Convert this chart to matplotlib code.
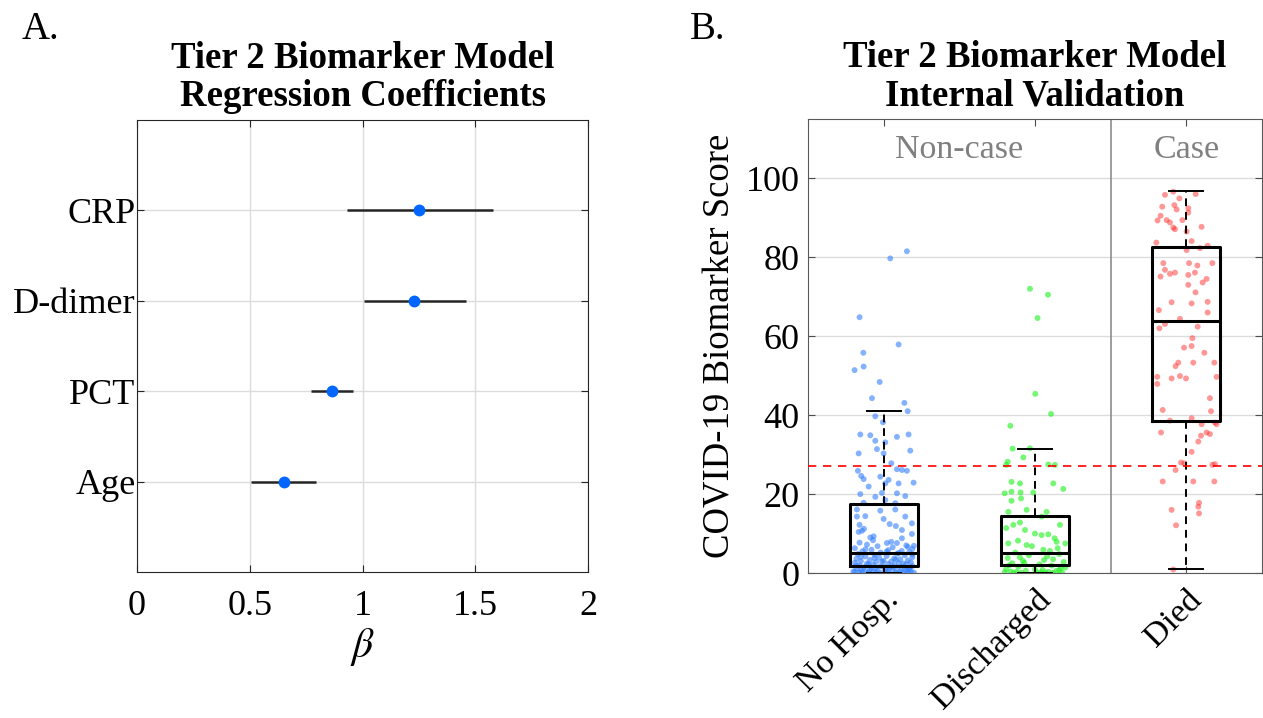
import numpy as np
import matplotlib
matplotlib.use("Agg")
import matplotlib.pyplot as plt

plt.rcParams['font.family'] = ['Liberation Serif', 'DejaVu Serif']
plt.rcParams['mathtext.fontset'] = 'stix'

# ---- panel A: regression coefficients ----
coef_names = ['Age', 'PCT', 'D-dimer', 'CRP']
coef_beta = [0.65, 0.865, 1.23, 1.25]
coef_lo = [0.507, 0.773, 1.005, 0.929]
coef_hi = [0.792, 0.958, 1.458, 1.577]

# ---- panel B: internal validation scores ----
groups = ['No Hosp.', 'Discharged', 'Died']
threshold = 27.2

# box statistics: q1, median, q3, lower whisker, upper whisker
box_q1 = [1.8, 2.0, 38.6]
box_med = [5.0, 5.0, 63.8]
box_q3 = [17.5, 14.4, 82.5]
box_lo = [0.0, 0.0, 0.9]
box_hi = [41.0, 31.4, 96.8]

nohosp_score = [81.5, 79.7, 64.8, 57.9, 55.8, 52.3, 51.4, 48.4, 44.3, 43.1, 41.0, 39.7, 38.2,
                35.1, 34.9, 33.5, 33.1, 34.5, 35.1, 30.3, 31.4, 30.3, 31.0,
                27.8, 26.3, 26.1, 25.9, 25.9, 24.6, 23.8, 24.4, 23.6, 22.7, 22.7, 22.9, 21.9,
                20.0, 20.3, 20.2, 19.5, 19.3, 18.5, 17.8, 17.7,
                16.1, 15.8, 16.1, 14.4, 14.3, 13.7, 14.3, 12.4, 11.9, 12.6, 12.2, 11.2, 10.4,
                10.7, 10.9, 9.9, 9.3, 9.0, 8.8, 7.6, 7.6, 7.7,
                7.2, 7.0, 6.8, 6.5, 6.3, 6.1, 5.9, 5.8, 5.6, 5.5, 5.3, 5.2, 4.9, 4.8, 4.6, 4.5,
                4.3, 4.2, 4.0, 3.9, 3.7, 3.6, 3.5, 3.3, 3.2, 3.1, 3.0, 2.9, 2.8, 2.7,
                2.6, 2.5, 2.4, 2.3, 2.2, 2.1, 2.0, 1.9, 1.8, 1.7, 1.6, 1.5, 1.4, 1.3, 1.2, 1.1,
                1.0, 0.9, 0.8, 0.8, 0.7, 0.6, 0.6, 0.5, 0.5, 0.4, 0.4, 0.3, 0.3, 0.2, 0.2, 0.1,
                0.1, 0.1, 0.05,
                8.3, 7.9, 6.6, 6.0, 5.4, 4.7, 4.1, 3.4, 2.9, 2.4, 1.9, 1.5, 1.2, 0.9, 0.6, 0.4,
                0.2, 0.1, 0.3, 0.7, 1.6, 2.2, 3.8, 5.1, 6.9]
nohosp_jitter = [0.154, 0.044, -0.159, 0.099, -0.134, -0.132, -0.192, -0.026, -0.077, 0.137, 0.159, -0.055, -0.004,
                 -0.154, -0.088, -0.055, 0.011, 0.088, 0.165, -0.165, -0.044, 0.0, 0.176,
                 0.051, 0.088, 0.121, 0.154, -0.17, -0.148, -0.132, -0.022, 0.033, 0.011, 0.099, 0.198, -0.099,
                 -0.154, -0.011, 0.088, 0.143, -0.055, 0.011, -0.132, 0.077,
                 -0.176, -0.022, 0.077, -0.121, -0.176, 0.0, 0.143, 0.040, 0.081, 0.187, -0.159, -0.130, -0.165,
                 -0.143, 0.121, 0.187, -0.066, -0.088, 0.121, 0.022, 0.088, -0.159,
                 -0.11, 0.15, -0.04, 0.06, -0.19, 0.19, -0.08, 0.03, 0.12, -0.14, 0.17, -0.02, 0.09, -0.17, -0.06, 0.14,
                 0.02, -0.12, 0.19, -0.03, 0.07, -0.18, 0.11, -0.09, 0.16, 0.0, -0.15, 0.05, -0.05, 0.18,
                 -0.19, 0.10, -0.11, 0.03, 0.15, -0.07, 0.07, -0.16, 0.19, -0.02, 0.12, -0.13, 0.04, -0.05, 0.17, -0.18,
                 0.09, -0.09, 0.01, 0.14, -0.15, 0.06, -0.04, 0.18, -0.12, 0.11, -0.2, 0.02, -0.07, 0.16, -0.16, 0.08,
                 -0.1, 0.2, -0.02,
                 -0.07, 0.05, 0.16, -0.12, 0.02, 0.19, -0.15, 0.08, -0.01, 0.13, -0.18, 0.06, -0.08, 0.17, 0.03, -0.14,
                 0.12, -0.05, -0.19, 0.15, 0.0, -0.1, -0.06, 0.1, 0.2]

disch_score = [72.0, 70.5, 64.6, 45.4, 40.3, 37.3, 31.5, 31.6, 29.3, 27.4, 28.2, 27.5, 27.4,
               23.1, 22.7, 22.7, 21.3, 20.2, 20.6, 20.4, 20.4, 18.9, 18.3, 15.5, 16.0, 15.5, 14.3,
               12.2, 12.8, 10.9, 12.2, 10.0, 9.6, 9.8, 8.2, 7.5, 7.1, 7.9, 7.5, 5.9, 5.6,
               5.2, 4.8, 4.5, 4.2, 3.8, 3.5, 3.1, 2.8, 2.5, 2.2, 1.9, 1.6, 1.3, 1.0, 0.8, 0.6,
               0.5, 0.4, 0.3, 0.2, 0.2, 0.1, 0.1, 0.05, 0.05,
               6.8, 6.3, 4.0, 3.3, 2.0, 1.4, 0.9, 0.3, 0.1, 8.8, 11.4, 2.6, 0.7, 0.2]
disch_jitter = [-0.033, 0.086, 0.017, 0.002, 0.106, -0.163, -0.148, -0.033, -0.077, -0.19, -0.18, 0.088, 0.132,
                -0.155, -0.099, 0.121, 0.187, -0.2, -0.155, -0.095, -0.011, -0.092, -0.155, -0.176, -0.055, 0.077, 0.044,
                -0.143, -0.099, -0.066, 0.165, 0.0, 0.044, 0.088, -0.112, -0.176, -0.055, 0.143, 0.2, 0.055, 0.099,
                -0.13, 0.16, -0.04, 0.08, -0.18, 0.12, -0.08, 0.19, -0.15, 0.03, 0.11, -0.11, 0.17, -0.19, 0.05, -0.06,
                0.14, -0.16, 0.09, -0.2, 0.01, 0.18, -0.09, 0.12, -0.14,
                -0.02, 0.15, -0.1, 0.06, -0.17, 0.2, 0.0, -0.12, 0.07, 0.13, -0.19, -0.07, 0.16, 0.04]

died_score = [96.6, 95.8, 94.9, 96.0, 93.2, 92.1, 92.8, 92.4, 91.3, 90.5, 89.3, 89.4, 88.8, 89.4,
              87.5, 87.1, 87.7, 86.5, 83.7, 84.1, 82.3, 82.9, 81.8, 78.5, 78.5, 78.5, 77.9,
              76.8, 75.8, 76.1, 75.1, 75.5, 76.1, 74.5, 73.6, 73.0, 71.1, 68.6, 68.3, 68.7,
              66.6, 66.0, 64.4, 63.1, 62.0, 62.4, 59.5, 57.5, 57.1, 55.8, 53.3, 52.4, 53.3, 53.3,
              49.7, 49.3, 49.9, 49.3, 49.7, 47.9, 44.3, 41.3, 41.0, 38.6, 39.2, 37.7, 38.1, 37.7,
              35.6, 35.6, 35.2, 34.8, 33.3, 30.7, 28.0, 27.8, 26.1, 27.4, 27.6,
              23.2, 23.2, 23.2, 17.8, 16.8, 15.1, 16.0, 12.1, 0.9]
died_jitter = [-0.086, -0.141, -0.046, 0.062, -0.079, -0.064, -0.159, 0.013, 0.013, -0.170, -0.190, -0.130, -0.108, -0.026,
               -0.086, -0.075, 0.101, 0.002, -0.198, 0.035, 0.090, 0.141, 0.002, 0.172, -0.152, 0.018, 0.073,
               -0.141, -0.108, -0.075, -0.170, 0.013, 0.057, 0.134, 0.108, 0.013, 0.061, -0.097, 0.035, 0.141,
               -0.181, 0.141, -0.042, -0.141, -0.178, 0.075, 0.040, 0.035, -0.015, 0.119, -0.053, -0.071, 0.046, 0.185,
               -0.192, -0.097, -0.042, -0.002, 0.200, -0.192, 0.156, -0.156, 0.163, -0.108, 0.035, 0.101, 0.189, 0.200,
               -0.167, 0.134, 0.156, 0.097, 0.079, 0.035, -0.035, -0.013, -0.071, 0.172, 0.189,
               -0.156, 0.046, 0.185, 0.084, 0.079, 0.084, -0.097, -0.068, -0.086]

fig = plt.figure(figsize=(12.63, 7.18), dpi=100)

# ---------------- A ----------------
ax1 = fig.add_axes([0.1085, 0.2033, 0.3571, 0.6295])
ypos = np.arange(1, len(coef_names) + 1)
ax1.hlines(ypos, coef_lo, coef_hi, color='0.15', lw=1.8, zorder=3)
ax1.plot(coef_beta, ypos, 'o', color='#0066ff', ms=7.5, zorder=4)
ax1.set_xlim(0, 2)
ax1.set_ylim(0, 5)
ax1.set_xticks([0, 0.5, 1, 1.5, 2])
ax1.set_xticklabels(['0', '0.5', '1', '1.5', '2'])
ax1.set_yticks(ypos)
ax1.set_yticklabels(coef_names)
ax1.grid(True, color='#dcdcdc', lw=1)
ax1.set_axisbelow(True)
ax1.tick_params(direction='in', top=True, right=True, labelsize=26, length=5, colors='0.15',
                labelcolor='k')
ax1.tick_params(axis='x', pad=13)
ax1.tick_params(axis='y', pad=1)
ax1.set_xlabel(r'$\beta$', fontsize=30, labelpad=2)
ax1.set_title('Tier 2 Biomarker Model\nRegression Coefficients', fontsize=26.5, fontweight='bold',
              linespacing=1.12, pad=10)
for s in ax1.spines.values():
    s.set_color('0.15')
fig.text(0.017, 0.945, 'A.', fontsize=28)

# ---------------- B ----------------
ax2 = fig.add_axes([0.6397, 0.2019, 0.3595, 0.6323])
cols = [(0.2, 0.5, 1.0), (0.1, 0.95, 0.1), (1.0, 0.1, 0.1)]
alphas = [0.6, 0.6, 0.45]
for i, (sc, jt) in enumerate([(nohosp_score, nohosp_jitter), (disch_score, disch_jitter),
                               (died_score, died_jitter)]):
    ax2.scatter(i + 1 + np.array(jt), sc, s=18, color=cols[i], alpha=alphas[i],
                edgecolors='none', zorder=2)

stats = []
for i in range(3):
    stats.append(dict(med=box_med[i], q1=box_q1[i], q3=box_q3[i],
                      whislo=box_lo[i], whishi=box_hi[i], fliers=[]))
ax2.bxp(stats, positions=[1, 2, 3], widths=0.45, showfliers=False, manage_ticks=False,
        boxprops=dict(color='k', lw=2.2),
        medianprops=dict(color='k', lw=2.2),
        whiskerprops=dict(color='k', lw=1.4, linestyle=(0, (4, 3))),
        capprops=dict(color='k', lw=1.4), zorder=3)

ax2.axhline(threshold, color='red', lw=1.2, linestyle=(0, (5, 4)), zorder=4)
ax2.axvline(2.5, color='0.55', lw=1.2, zorder=1)
ax2.text(1.5, 107.2, 'Non-case', color='0.5', fontsize=24.5, ha='center', va='center')
ax2.text(3, 107.2, 'Case', color='0.5', fontsize=24.5, ha='center', va='center')

ax2.set_xlim(0.5, 3.5)
ax2.set_ylim(0, 115)
ax2.set_xticks([1, 2, 3])
ax2.set_xticklabels(groups, rotation=45, ha='right', rotation_mode='anchor')
ax2.set_yticks([0, 20, 40, 60, 80, 100])
ax2.yaxis.grid(True, color='#dcdcdc', lw=1)
ax2.set_axisbelow(True)
ax2.tick_params(direction='in', top=True, right=True, labelsize=26, length=5, colors='0.3',
                labelcolor='k', pad=6)
ax2.tick_params(axis='x', labelsize=24.5, pad=8)
ax2.set_ylabel('COVID-19 Biomarker Score', fontsize=26.5, labelpad=6)
ax2.set_title('Tier 2 Biomarker Model\nInternal Validation', fontsize=26.5, fontweight='bold',
              linespacing=1.12, pad=10)
for s in ax2.spines.values():
    s.set_color('0.35')
fig.text(0.546, 0.945, 'B.', fontsize=28)

fig.savefig('out.png', dpi=100)
